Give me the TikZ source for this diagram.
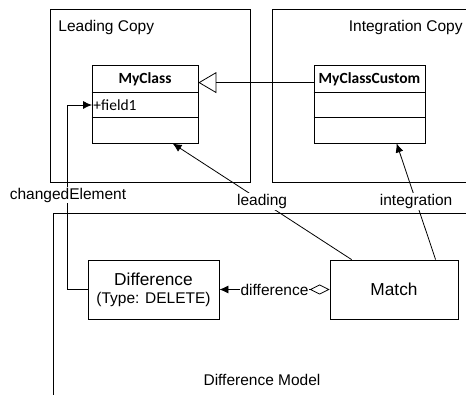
\documentclass[tikz,border=0pt]{standalone}
\usepackage{fontspec}
\setmainfont{Liberation Sans}
\newfontfamily\calfont{Carlito}
\usetikzlibrary{arrows.meta,calc}
\tikzset{
  lbl/.style={font=\fontsize{15.5}{18}\selectfont, inner sep=1pt},
  blbl/.style={font=\fontsize{17.3}{20}\selectfont, inner sep=1pt},
  wlbl/.style={lbl, fill=white},
  cls/.style={draw, minimum height=78pt, inner sep=0pt},
  obj/.style={draw, minimum height=59pt, inner sep=0pt},
  frame/.style={line width=0.8pt},
  fillarrow/.style={-{Latex[length=9pt,width=8pt]}},
}
\begin{document}
\begin{tikzpicture}[x=1pt,y=-1pt,line width=0.8pt]
\useasboundingbox (0,0) rectangle (466,395);
% frames
\draw[frame] (50,9) rectangle (250,182);
\draw[frame] (466.5,9) -- (272,9) -- (272,182) -- (466.5,182);
\draw[frame] (466.5,213) -- (53,213) -- (53,395.5);
\node[lbl, anchor=west] (tlead) at (57,27) {Leading Copy};
\node[lbl, anchor=east] (tint) at (464,27) {Integration Copy};
\node[lbl] (tdm) at (262,380) {Difference Model};
% classes
\node[cls, minimum width=106pt] (mc) at (145,104) {};
\node[font=\calfont\bfseries\fontsize{15.5}{18}\selectfont] (mct) at (145,79) {MyClass};
\draw ($(mc.north west)+(0,28)$) -- ($(mc.north east)+(0,28)$);
\draw ($(mc.north west)+(0,53)$) -- ($(mc.north east)+(0,53)$);
\node[font=\calfont\fontsize{15.5}{18}\selectfont, anchor=west, inner sep=1pt] (f1) at (92,105) {+field1};
\node[cls, minimum width=111pt] (mcc) at (369.5,104) {};
\node[font=\calfont\bfseries\fontsize{15.5}{18}\selectfont] (mcct) at (369.5,79) {MyClassCustom};
\draw ($(mcc.north west)+(0,28)$) -- ($(mcc.north east)+(0,28)$);
\draw ($(mcc.north west)+(0,53)$) -- ($(mcc.north east)+(0,53)$);
% objects
\node[obj, minimum width=131pt] (diff) at (153.5,289.5) {};
\node[blbl] (diffa) at (153.5,279) {Difference};
\node[lbl] (diffb) at (153.5,299.5) {(Type: DELETE)};
\node[obj, minimum width=128pt] (match) at (394,289.5) {};
\node[blbl] (matcht) at (394,289.5) {Match};
% inheritance
\coordinate (ia) at ($(mcc.north west)+(0,18)$);
\draw[-{Triangle[open,length=18pt,width=21pt]}] (ia) -- (ia -| mc.east);
% changedElement
\draw[fillarrow] (diff.west) -- ++(-20,0) |- (f1.west);
\node[wlbl] (lce) at (68,195) {changedElement};
% leading / integration
\draw[fillarrow] ($(match.north west)+(22,0)$) -- ($(mc.south west)+(81,0)$) node[wlbl, pos=0.5] (llead) {leading};
\draw[fillarrow] ($(match.north west)+(106,0)$) -- ($(mcc.south west)+(83,0)$) node[wlbl, pos=0.5] (lint) {integration};
% difference
\draw[{Diamond[open,length=20pt,width=10pt]}-{Latex[length=9pt,width=8pt]}] (match.west) -- (diff.east) node[wlbl, midway] (ldiff) {difference};
\end{tikzpicture}
\end{document}
